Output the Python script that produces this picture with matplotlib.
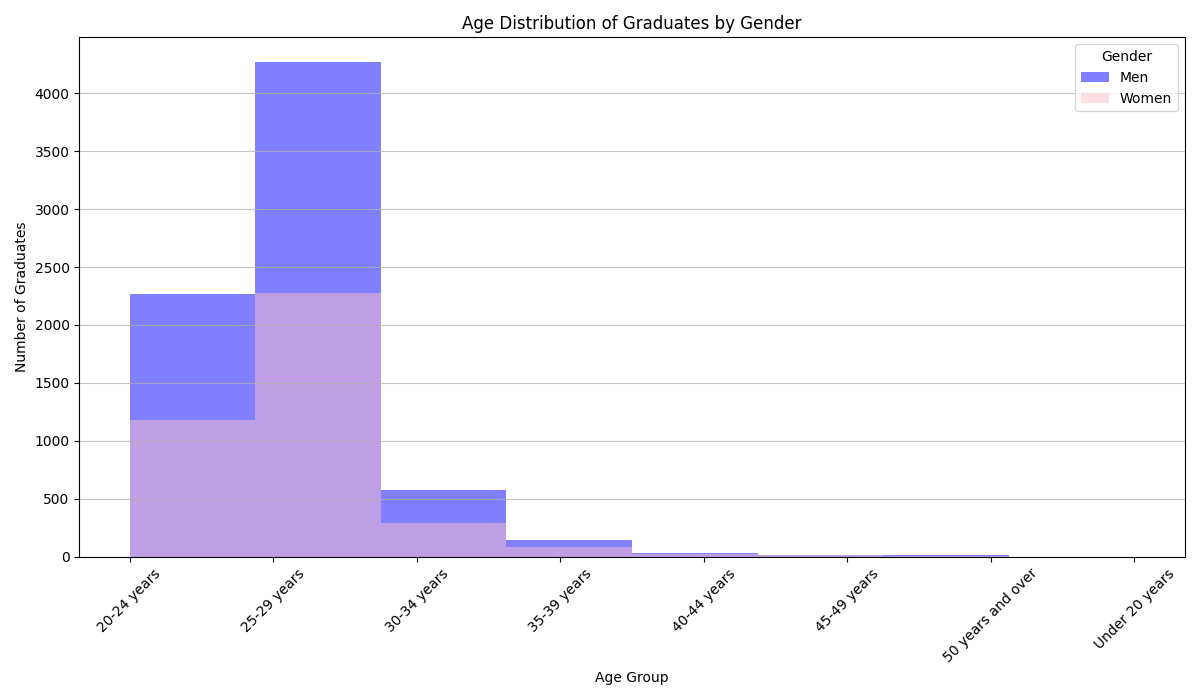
import numpy as np
import matplotlib
matplotlib.use('Agg')
import matplotlib.pyplot as plt

age_groups = ['20-24 years', '25-29 years', '30-34 years', '35-39 years',
              '40-44 years', '45-49 years', '50 years and over', 'Under 20 years']
men = [2270, 4270, 575, 140, 30, 15, 12, 1]
women = [1180, 2280, 290, 85, 25, 10, 8, 1]

positions = np.arange(len(age_groups))

fig, ax = plt.subplots(figsize=(12, 7))
ax.hist(positions, bins=len(age_groups), weights=men, color='blue',
        alpha=0.5, label='Men')
ax.hist(positions, bins=len(age_groups), weights=women, color='pink',
        alpha=0.5, label='Women')
ax.set_xticks(positions)
ax.set_xticklabels(age_groups, rotation=45)
ax.set_title('Age Distribution of Graduates by Gender')
ax.set_xlabel('Age Group')
ax.set_ylabel('Number of Graduates')
ax.legend(title='Gender')
ax.grid(axis='y', alpha=0.75)
fig.tight_layout()
fig.savefig('out.png', dpi=100)
